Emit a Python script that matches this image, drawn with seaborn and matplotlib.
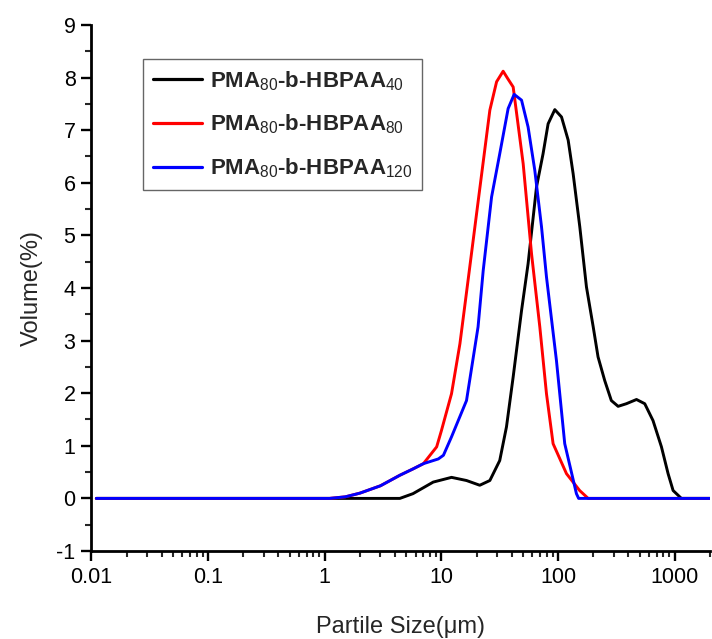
import numpy as np
import pandas as pd
import seaborn as sns
import matplotlib.pyplot as plt
import matplotlib.ticker as plticker

# series labels
labels = [r"PMA$_{\rm 80}$-b-HBPAA$_{\rm 40}$",
          r"PMA$_{\rm 80}$-b-HBPAA$_{\rm 80}$",
          r"PMA$_{\rm 80}$-b-HBPAA$_{\rm 120}$"]
colors = ["black", "red", "blue"]

# PMA80-b-HBPAA40
size_40 = [0.011, 4.4, 5.7, 8.5, 12.2, 16.4, 21.3, 26.0, 31.6, 36.1, 41.2, 48.6,
           55.3, 65.3, 74.3, 82.1, 93.7, 107, 122, 134.6, 153.5, 175, 200, 220,
           251, 286, 327, 385, 470, 553, 651, 769, 877, 968, 1140, 2000]
vol_40 = [0, 0, 0.09, 0.31, 0.40, 0.34, 0.25, 0.34, 0.72, 1.36, 2.31, 3.57,
          4.46, 5.92, 6.55, 7.12, 7.39, 7.25, 6.81, 6.17, 5.16, 4.02, 3.26, 2.69,
          2.24, 1.86, 1.75, 1.80, 1.88, 1.80, 1.48, 0.98, 0.47, 0.15, 0, 0]

# PMA80-b-HBPAA80
size_80 = [0.011, 1.1, 1.5, 2.0, 3.0, 4.4, 5.7, 7.0, 9.1, 10.0, 12.2, 14.4,
           16.9, 20.0, 26.0, 29.7, 33.8, 37.0, 41.2, 50.2, 59.2, 69.7, 79.5,
           90.6, 118, 153, 181, 2000]
vol_80 = [0, 0, 0.03, 0.10, 0.24, 0.44, 0.56, 0.66, 0.98, 1.29, 1.99, 2.94,
          4.14, 5.41, 7.38, 7.92, 8.12, 7.98, 7.82, 6.36, 4.65, 3.26, 1.99,
          1.04, 0.47, 0.15, 0, 0]

# PMA80-b-HBPAA120
size_120 = [0.011, 1.1, 1.5, 2.0, 3.0, 4.4, 5.7, 7.0, 9.4, 10.4, 12.2, 16.4,
            20.6, 22.8, 26.9, 31.6, 37.3, 42.0, 48.6, 55.3, 63.1, 72.1, 79.5,
            96.8, 114, 143.6, 150, 2000]
vol_120 = [0, 0, 0.03, 0.10, 0.24, 0.44, 0.56, 0.66, 0.75, 0.82, 1.17, 1.86,
           3.26, 4.33, 5.73, 6.55, 7.41, 7.68, 7.57, 7.06, 6.24, 5.16, 4.21,
           2.62, 1.04, 0.09, 0, 0]

x_ticks = [0.01, 0.1, 1, 10, 100, 1000]
x_tick_labels = ["0.01", "0.1", "1", "10", "100", "1000"]
y_ticks = list(range(-1, 10))

df = pd.concat([
    pd.DataFrame({"size": size_40, "volume": vol_40, "sample": labels[0]}),
    pd.DataFrame({"size": size_80, "volume": vol_80, "sample": labels[1]}),
    pd.DataFrame({"size": size_120, "volume": vol_120, "sample": labels[2]}),
], ignore_index=True)

sns.set_style("ticks")
plt.rcParams["font.family"] = ["Liberation Sans", "DejaVu Sans"]
plt.rcParams["axes.unicode_minus"] = False
plt.rcParams["mathtext.fontset"] = "custom"
plt.rcParams["mathtext.rm"] = "Liberation Sans"

fig = plt.figure(figsize=(7.12, 6.39), dpi=100)
ax = fig.add_axes([0.1285, 0.1377, 0.8685, 0.8233])

sns.lineplot(data=df, x="size", y="volume", hue="sample", hue_order=labels,
             palette=dict(zip(labels, colors)), estimator=None, sort=True,
             linewidth=2.1, ax=ax)

ax.set_xscale("log")
ax.set_xlim(0.01, 2000)
ax.set_ylim(-1, 9)
ax.set_xticks(x_ticks)
ax.set_xticklabels(x_tick_labels)
ax.xaxis.set_minor_locator(plticker.LogLocator(base=10, subs=np.arange(2, 10), numticks=20))
ax.xaxis.set_minor_formatter(plticker.NullFormatter())
ax.set_yticks(y_ticks)
ax.yaxis.set_minor_locator(plticker.MultipleLocator(0.5))

ax.tick_params(which="major", direction="out", length=7.5, width=1.7,
               labelsize=15.5, colors="black", pad=4)
ax.tick_params(which="minor", direction="out", length=4, width=1.5)
for side in ["left", "bottom"]:
    ax.spines[side].set_linewidth(2.0)
    ax.spines[side].set_color("black")
sns.despine(ax=ax)

ax.set_xlabel("Partile Size(μm)", fontsize=17, labelpad=20)
ax.set_ylabel("Volume(%)", fontsize=17, labelpad=10)

leg = ax.legend(loc="upper left", bbox_to_anchor=(0.0833, 0.935), borderaxespad=0,
                frameon=True, fancybox=False, framealpha=1, edgecolor="#666666",
                prop={"weight": "bold", "size": 16}, handlelength=2.2,
                labelspacing=0.9, handletextpad=0.35, borderpad=0.45)
leg.get_frame().set_linewidth(1.0)
for line in leg.get_lines():
    line.set_linewidth(2.3)

fig.savefig("out.png", dpi=100)
